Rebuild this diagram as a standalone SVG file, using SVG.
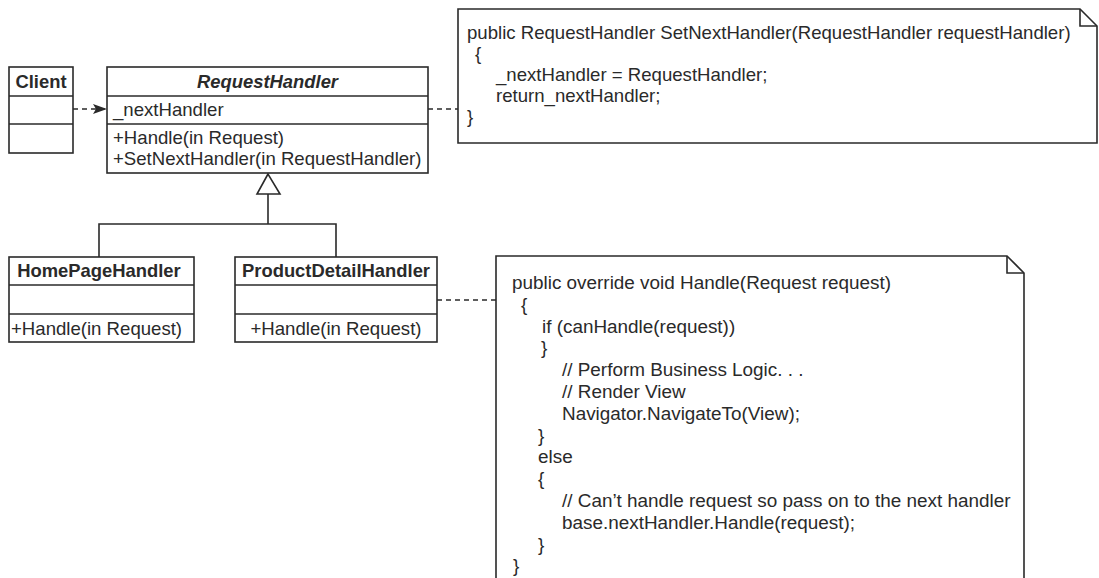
<svg xmlns="http://www.w3.org/2000/svg" width="1099" height="578" viewBox="0 0 1099 578">
<style>
text{font-family:"Liberation Sans",Arial,sans-serif;font-size:18.6px;fill:#2a2a2a}
.b{font-weight:bold;font-size:18.4px}
.bi{font-weight:bold;font-style:italic;font-size:18.4px}
.m{text-anchor:middle}
.c{font-size:18.9px}
.box{fill:#fff;stroke:#2a2a2a;stroke-width:1.6}
.ln{fill:none;stroke:#2a2a2a;stroke-width:1.6}
.dash{fill:none;stroke:#2a2a2a;stroke-width:1.6;stroke-dasharray:5 4}
</style>
<defs>
<marker id="arr" viewBox="0 0 14 10" refX="13" refY="5" markerWidth="14" markerHeight="10" markerUnits="userSpaceOnUse" orient="auto">
<path d="M0,0 L14,5 L0,10 L3,5 Z" fill="#2a2a2a"/>
</marker>
</defs>
<rect width="1099" height="578" fill="#fff"/>
<g id="connectors">
<line class="dash" x1="73" y1="109" x2="106" y2="109" marker-end="url(#arr)"/>
<line class="dash" x1="428" y1="109" x2="458" y2="109"/>
<line class="dash" x1="437" y1="300" x2="496" y2="300"/>
<polyline class="ln" points="99,257 99,224 336,224 336,257"/>
<line class="ln" x1="268" y1="224" x2="268" y2="194"/>
<polygon class="box" points="268,174 257,194 280,194"/>
</g>
<g id="client">
<rect class="box" x="9" y="67" width="64" height="86"/>
<line class="ln" x1="9" y1="96" x2="73" y2="96"/>
<line class="ln" x1="9" y1="124" x2="73" y2="124"/>
<text class="b m" x="41" y="88">Client</text>
</g>
<g id="requesthandler">
<rect class="box" x="107" y="67" width="321" height="106"/>
<line class="ln" x1="107" y1="96" x2="428" y2="96"/>
<line class="ln" x1="107" y1="124" x2="428" y2="124"/>
<text class="bi m" x="267.5" y="88">RequestHandler</text>
<text x="113" y="116">_nextHandler</text>
<text x="113" y="144">+Handle(in Request)</text>
<text x="113" y="165">+SetNextHandler(in RequestHandler)</text>
</g>
<g id="homepagehandler">
<rect class="box" x="9" y="257" width="185" height="85"/>
<line class="ln" x1="9" y1="285" x2="194" y2="285"/>
<line class="ln" x1="9" y1="314" x2="194" y2="314"/>
<text class="b m" x="99" y="277">HomePageHandler</text>
<text x="11" y="335">+Handle(in Request)</text>
</g>
<g id="productdetailhandler">
<rect class="box" x="235" y="257" width="202" height="85"/>
<line class="ln" x1="235" y1="285" x2="437" y2="285"/>
<line class="ln" x1="235" y1="314" x2="437" y2="314"/>
<text class="b m" x="336" y="277">ProductDetailHandler</text>
<text class="m" x="336" y="335">+Handle(in Request)</text>
</g>
<g id="note-setnexthandler">
<path class="box" d="M458,9 L1080,9 L1097,26 L1097,143 L458,143 Z"/>
<polyline class="ln" points="1080,9 1080,26 1097,26"/>
<text x="467" y="39">public RequestHandler SetNextHandler(RequestHandler requestHandler)</text>
<text x="475" y="60">{</text>
<text x="496" y="81">_nextHandler = RequestHandler;</text>
<text x="496" y="102">return_nextHandler;</text>
<text x="467" y="123">}</text>
</g>
<g id="note-handle">
<path class="box" d="M496,600 L496,256 L1007,256 L1024,273 L1024,600"/>
<polyline class="ln" points="1007,256 1007,273 1024,273"/>
<text class="c" x="512" y="289">public override void Handle(Request request)</text>
<text class="c" x="521" y="310.8">{</text>
<text class="c" x="542" y="332.6">if (canHandle(request))</text>
<text class="c" x="541" y="354.4">}</text>
<text class="c" x="562" y="376.2">// Perform Business Logic. . .</text>
<text class="c" x="562" y="398">// Render View</text>
<text class="c" x="562" y="419.8">Navigator.NavigateTo(View);</text>
<text class="c" x="538" y="441.6">}</text>
<text class="c" x="538" y="463.4">else</text>
<text class="c" x="538" y="485.2">{</text>
<text class="c" x="562" y="507">// Can’t handle request so pass on to the next handler</text>
<text class="c" x="562" y="528.8">base.nextHandler.Handle(request);</text>
<text class="c" x="538" y="550.6">}</text>
<text class="c" x="513" y="572">}</text>
</g>
</svg>
